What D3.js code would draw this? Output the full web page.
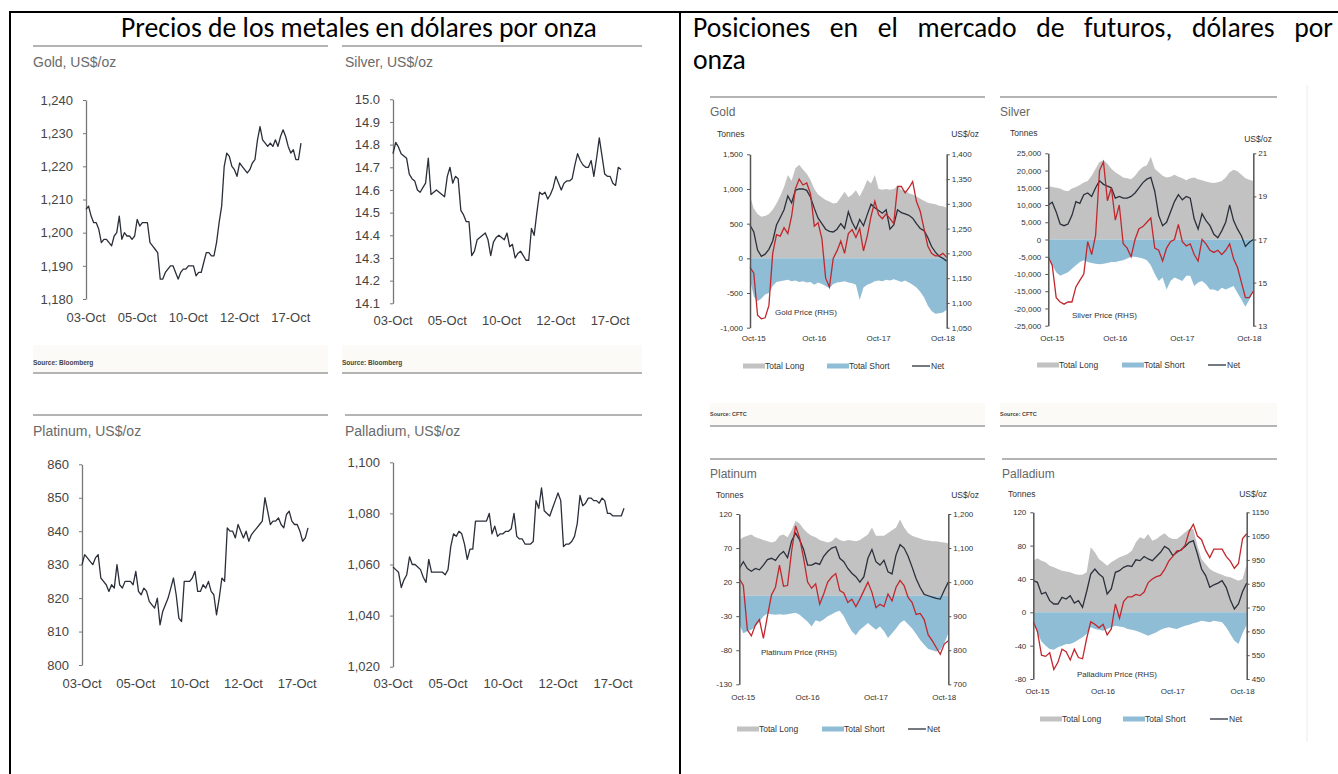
<!DOCTYPE html>
<html>
<head>
<meta charset="utf-8">
<script src="https://cdn.jsdelivr.net/npm/d3@7"></script>
<style>
  body { margin: 0; background: #fff; }
  svg { display: block; font-family: "Liberation Sans", Arial, sans-serif; }
</style>
</head>
<body>
<svg id="chart" width="1338" height="774"></svg>
<script>
// ---- headers ----
const leftHeader = "Precios de los metales en dólares por onza";
const rightHeaderLine1 = "Posiciones en el mercado de futuros, dólares por";
const rightHeaderLine2 = "onza";

// ---- spot prices (intraday, 03-Oct to 17-Oct) ----
const spotTickLabels = ["03-Oct", "05-Oct", "10-Oct", "12-Oct", "17-Oct"];
const spotTickIdx = [0, 20, 40, 60, 80];

const goldSpot = [1207,1208,1205,1203,1203,1201,1197,1198,1198,1197,
  1196,1199,1200,1205,1198,1200,1199,1199,1198,1199,
  1204,1202,1203,1203,1203,1197,1196,1195,1194,1186,
  1186,1188,1189,1190,1190,1188,1186,1188,1189,1189,
  1190,1190,1190,1187,1188,1188,1191,1194,1194,1193,
  1193,1197,1203,1208,1220,1224,1223,1220,1219,1217,
  1221,1220,1219,1218,1219,1221,1222,1228,1232,1228,
  1227,1226,1227,1226,1228,1226,1229,1231,1229,1226,
  1224,1225,1222,1222,1227];

const silverSpot = [14.76,14.81,14.79,14.76,14.75,14.74,14.67,14.65,14.64,14.60,
  14.59,14.61,14.63,14.74,14.58,14.59,14.60,14.59,14.58,14.57,
  14.66,14.70,14.63,14.66,14.65,14.51,14.49,14.46,14.46,14.31,
  14.33,14.38,14.39,14.40,14.41,14.38,14.31,14.37,14.39,14.40,
  14.39,14.38,14.41,14.35,14.36,14.30,14.32,14.33,14.31,14.29,
  14.29,14.43,14.40,14.50,14.59,14.58,14.59,14.56,14.58,14.61,
  14.66,14.63,14.60,14.63,14.64,14.64,14.65,14.71,14.76,14.73,
  14.71,14.70,14.70,14.73,14.66,14.74,14.83,14.75,14.67,14.66,
  14.66,14.63,14.62,14.70,14.69];

const platinumSpot = [830,833,832,831,830,832,833,826,825,824,
  822,824,823,830,824,823,825,825,825,824,
  828,822,821,823,822,819,818,817,820,812,
  816,818,820,823,826,821,814,813,825,825,
  825,826,828,822,822,824,823,825,822,821,
  815,820,826,825,841,840,840,838,842,840,
  838,840,837,839,840,841,842,843,850,846,
  842,843,843,844,842,841,845,846,843,842,
  842,840,837,838,841];

const palladiumSpot = [1059,1058,1057,1051,1054,1056,1063,1060,1060,1059,
  1058,1055,1053,1062,1057,1057,1057,1057,1057,1056,
  1058,1067,1072,1071,1073,1072,1068,1062,1066,1066,
  1077,1077,1077,1077,1077,1080,1072,1075,1071,1072,
  1072,1073,1073,1074,1080,1071,1070,1070,1068,1068,
  1068,1069,1085,1082,1090,1081,1080,1079,1082,1085,
  1088,1085,1067,1068,1068,1069,1071,1076,1087,1083,
  1084,1086,1086,1085,1085,1084,1086,1085,1080,1080,
  1079,1079,1079,1079,1082];

// ---- futures positions (every 3 weeks, Oct-15 to Oct-18) ----
const futTickLabels = ["Oct-15", "Oct-16", "Oct-17", "Oct-18"];
const futTickIdx = [1, 17, 34, 51];

const goldLong = [900,720,640,600,610,640,700,790,900,1030,1200,1120,1300,1350,1280,1220,1130,1000,920,880,
  840,820,790,800,880,960,880,920,980,890,1000,1130,1080,1200,1000,990,1000,990,1000,1040,
  990,980,940,920,890,860,830,800,790,780,760,750,730];
const goldShort = [-300,-550,-620,-580,-520,-500,-400,-340,-330,-320,-310,-330,-320,-340,-330,-350,-340,-380,-350,-370,
  -400,-430,-370,-350,-340,-330,-350,-360,-380,-600,-420,-380,-360,-330,-320,-330,-310,-320,-300,-320,
  -340,-320,-350,-380,-420,-480,-560,-680,-760,-800,-790,-780,-740];
const goldNet = [480,380,120,30,60,130,250,480,590,700,900,800,980,1000,1000,980,880,720,580,500,
  420,390,380,420,500,430,670,520,420,560,470,630,780,730,690,650,700,420,480,700,
  660,640,620,580,500,430,400,300,170,90,30,0,-40];
const goldPrice = [1172,1160,1075,1068,1070,1095,1200,1238,1235,1252,1240,1275,1330,1350,1338,1342,1320,1255,1262,1230,
  1150,1132,1190,1205,1225,1200,1240,1248,1232,1250,1205,1235,1275,1305,1278,1270,1280,1270,1260,1335,
  1335,1322,1332,1345,1305,1285,1250,1215,1200,1195,1195,1200,1192];

const silverLong = [15500,15200,15000,14800,14200,14000,14800,15200,15800,16500,17000,18500,20500,22500,23000,22000,20500,19500,18800,18000,
  17800,17500,18500,20000,21000,21500,24000,20500,19500,18500,18000,18200,18800,18200,17800,17200,17800,18000,17500,17200,
  16800,16500,16400,16600,17000,18000,19500,20200,19800,18800,17800,17300,17000];
const silverShort = [-5000,-7500,-9500,-10500,-10000,-9500,-8500,-7500,-6500,-6000,-6500,-6800,-7000,-7200,-7000,-6800,-6500,-6500,-6200,-6000,
  -5500,-5000,-5000,-5200,-5500,-6000,-7500,-10000,-12000,-11000,-14500,-12000,-11000,-11500,-12000,-10500,-10500,-13500,-12500,-12000,
  -13000,-14500,-14500,-15000,-14000,-14500,-14000,-13500,-15500,-17500,-19500,-17500,-15000];
const silverNet = [10000,10800,8000,4500,4000,4500,7000,11000,10500,13000,13500,12500,15000,17000,16000,15500,15000,12000,12500,12000,
  12000,12500,13500,15000,16500,17500,18000,14000,7000,4000,5000,8000,11000,13000,11500,12500,12000,6000,3000,7500,
  5500,4000,1500,500,2500,5000,10000,5500,3000,1000,-2000,-800,0];
const silverPrice = [16.2,15.8,14.3,14.1,14.0,14.1,14.1,14.8,15.1,15.4,16.9,16.3,17.2,20.2,20.6,18.8,19.4,17.9,18.6,16.8,
  16.6,16.2,17.0,17.5,17.6,17.8,18.0,16.6,16.5,16.0,16.6,16.9,17.0,17.7,16.9,16.7,16.8,16.3,16.0,17.0,
  16.8,16.5,16.4,16.5,16.3,16.5,16.8,16.1,15.7,15.0,14.3,14.3,14.6];

const platinumLong = [82,86,88,90,86,84,82,80,78,80,88,90,86,96,110,106,98,92,88,86,
  82,80,78,80,86,82,80,82,81,80,82,86,90,100,88,88,88,92,96,100,
  112,100,92,88,86,84,82,81,80,80,79,78,77];
const platinumShort = [-42,-55,-52,-50,-45,-38,-30,-26,-27,-28,-27,-28,-27,-26,-25,-28,-33,-38,-45,-36,
  -38,-35,-30,-27,-24,-22,-30,-42,-52,-58,-50,-45,-40,-45,-50,-45,-52,-62,-55,-48,
  -40,-36,-42,-48,-56,-65,-72,-78,-80,-82,-80,-70,-55];
const platinumNet = [40,50,40,36,40,38,45,53,55,52,60,65,56,80,92,82,68,45,45,48,
  46,58,65,70,72,55,50,40,33,28,20,28,55,68,50,45,52,35,32,60,
  75,70,58,42,25,12,2,0,-2,-4,-5,8,20];
const platinumPrice = [1010,990,860,842,874,890,835,900,962,985,1050,988,990,1090,1165,1130,1070,1000,982,995,
  935,965,1000,1015,1025,975,968,940,950,928,950,975,1000,970,925,935,928,965,945,985,
  1005,990,955,940,905,908,890,845,828,808,788,818,828];

const palladiumLong = [62,65,62,60,56,54,52,50,49,48,46,45,45,48,78,72,64,60,56,60,
  63,66,68,70,74,84,90,88,94,86,88,92,95,90,88,88,92,96,100,100,
  80,64,58,52,49,47,45,43,42,40,38,40,58];
const palladiumShort = [-10,-25,-35,-40,-44,-45,-42,-40,-38,-38,-36,-33,-30,-26,-18,-20,-21,-22,-20,-18,
  -16,-17,-18,-20,-21,-22,-24,-26,-28,-26,-24,-21,-19,-18,-19,-20,-18,-16,-15,-13,
  -12,-10,-11,-12,-10,-11,-12,-18,-26,-34,-38,-25,-15];
const palladiumNet = [38,36,22,24,14,10,10,18,16,20,11,14,6,25,46,52,46,42,22,28,
  48,50,54,56,55,63,62,67,64,62,67,72,79,76,68,72,75,79,84,86,
  70,52,44,30,33,35,38,30,15,4,10,25,35];
const palladiumPrice = [690,650,550,545,560,490,520,575,565,530,575,540,535,620,690,680,665,680,635,660,
  765,705,775,795,795,805,800,815,855,870,880,885,910,945,965,988,990,1012,1070,1100,
  1050,1035,990,960,995,995,995,965,945,915,935,1040,1060];

const legendLabels = ["Total Long", "Total Short", "Net"];

// hyphen minus like the original, not the unicode minus
const loc = d3.formatLocale({ decimal: ".", thousands: ",", grouping: [3], currency: ["$", ""], minus: "-" });
const fmtComma = loc.format(",");
const fmtInt = loc.format("d");
const fmt1 = loc.format(".1f");

const GRAY = "#c2c2c2", BLUE = "#8fbdd6", RED = "#c1272d", NET = "#2b303b";
const HEAD_FONT = "Carlito, Calibri, Lato, sans-serif";

const svg = d3.select("#chart");

function hline(x0, x1, y, color, w) {
  svg.append("line").attr("x1", x0).attr("x2", x1).attr("y1", y).attr("y2", y)
    .attr("stroke", color).attr("stroke-width", w);
}
function vline(x, y0, y1, color, w) {
  svg.append("line").attr("x1", x).attr("x2", x).attr("y1", y0).attr("y2", y1)
    .attr("stroke", color).attr("stroke-width", w);
}

// table frame
hline(9, 1338, 12, "#000", 2);
vline(10, 11, 774, "#000", 2);
vline(680, 11, 774, "#000", 2);
vline(1307, 85, 742, "#ececec", 1);

// headers: size the font so the left title spans the same width as the original
const lh = svg.append("text").attr("x", 121).attr("y", 37)
  .attr("font-family", HEAD_FONT).attr("font-size", 22).text(leftHeader);
const headSize = 22 * 476 / lh.node().getComputedTextLength();
lh.attr("font-size", headSize);

// justified first line on the right
const words = rightHeaderLine1.split(" ");
const wordNodes = words.map(w => svg.append("text").attr("y", 37)
  .attr("font-family", HEAD_FONT).attr("font-size", headSize).text(w));
const widths = wordNodes.map(n => n.node().getComputedTextLength());
const gap = (1333 - 693 - d3.sum(widths)) / (words.length - 1);
let cx = 693;
wordNodes.forEach((n, i) => { n.attr("x", cx); cx += widths[i] + gap; });
svg.append("text").attr("x", 693).attr("y", 69)
  .attr("font-family", HEAD_FONT).attr("font-size", headSize)
  .text(rightHeaderLine2);

// ---- small spot price charts ----
function spotChart(c) {
  const g = svg.append("g");
  hline(c.ruleX0, c.ruleX1, c.ruleY, "#9b9b9b", 1.5);
  g.append("text").attr("x", c.titleX).attr("y", c.ruleY + 21)
    .attr("font-size", 14).attr("fill", "#6a6a6a").text(c.title);

  const x = d3.scaleLinear().domain([0, c.values.length - 1]).range([c.axisX, c.endX]);
  const y = d3.scaleLinear().domain(c.domain).range([c.bottom, c.top]);

  const ax = g.append("g").attr("transform", "translate(" + c.axisX + ",0)")
    .call(d3.axisLeft(y).tickValues(c.ticks).tickFormat(c.fmt).tickSize(3).tickSizeOuter(0).tickPadding(10));
  ax.select(".domain").attr("stroke", "#777").attr("stroke-width", 1.3);
  ax.selectAll(".tick line").attr("stroke", "#777");
  ax.selectAll(".tick text").attr("font-size", 13).attr("fill", "#444")
    .attr("font-family", "\"Liberation Sans\", Arial, sans-serif");

  g.selectAll(".xl").data(spotTickIdx).join("text")
    .attr("x", d => x(d)).attr("y", c.labelY)
    .attr("text-anchor", "middle").attr("font-size", 13).attr("fill", "#444")
    .text((d, i) => spotTickLabels[i]);

  g.append("path").datum(c.values)
    .attr("d", d3.line().x((d, i) => x(i)).y(d => y(d)))
    .attr("fill", "none").attr("stroke", "#2b2f3a").attr("stroke-width", 1.3)
    .attr("stroke-linejoin", "round");

  if (c.source) {
    g.append("rect").attr("x", c.ruleX0).attr("y", 345).attr("width", c.ruleX1 - c.ruleX0).attr("height", 27)
      .attr("fill", "#fbfaf6");
    g.append("text").attr("x", c.ruleX0).attr("y", 365).attr("font-size", 6.5)
      .attr("font-weight", "bold").attr("fill", "#444").text(c.source);
    hline(c.ruleX0, c.ruleX1, 373, "#9b9b9b", 1.5);
  }
}

spotChart({ title: "Gold, US$/oz", values: goldSpot, ruleX0: 33, ruleX1: 328, ruleY: 46, titleX: 33,
  axisX: 86, endX: 301, top: 100, bottom: 299, domain: [1180, 1240], ticks: d3.range(1180, 1241, 10),
  fmt: fmtComma, labelY: 322, source: "Source: Bloomberg" });
spotChart({ title: "Silver, US$/oz", values: silverSpot, ruleX0: 342, ruleX1: 642, ruleY: 46, titleX: 345,
  axisX: 393, endX: 621, top: 99.3, bottom: 303.3, domain: [14.1, 15.0],
  ticks: [14.1,14.2,14.3,14.4,14.5,14.6,14.7,14.8,14.9,15.0],
  fmt: fmt1, labelY: 325, source: "Source: Bloomberg" });
spotChart({ title: "Platinum, US$/oz", values: platinumSpot, ruleX0: 33, ruleX1: 328, ruleY: 415, titleX: 33,
  axisX: 82, endX: 308, top: 464.3, bottom: 665, domain: [800, 860], ticks: d3.range(800, 861, 10),
  fmt: fmtInt, labelY: 688 });
spotChart({ title: "Palladium, US$/oz", values: palladiumSpot, ruleX0: 345, ruleX1: 642, ruleY: 415, titleX: 345,
  axisX: 393, endX: 624, top: 462.3, bottom: 666.7, domain: [1020, 1100], ticks: d3.range(1020, 1101, 20),
  fmt: fmtComma, labelY: 688 });

// ---- futures positioning charts ----
function futuresChart(c) {
  const g = svg.append("g");
  hline(c.ruleX0, c.ruleX1, c.ruleY, "#9b9b9b", 1.5);
  g.append("text").attr("x", c.ruleX0).attr("y", c.ruleY + 19)
    .attr("font-size", 12).attr("fill", "#666").text(c.title);
  g.append("text").attr("x", c.tonnesX).attr("y", c.unitsY).attr("font-size", 8.5).attr("fill", "#333").text("Tonnes");
  g.append("text").attr("x", c.unitsX).attr("y", c.unitsY2 || c.unitsY).attr("text-anchor", "end")
    .attr("font-size", 8.5).attr("fill", "#333").text("US$/oz");

  const x = d3.scaleLinear().domain([0, c.long.length - 1]).range([c.lx, c.rx]);
  const yl = d3.scaleLinear().domain(c.ldomain).range([c.bottom, c.top]);
  const yr = d3.scaleLinear().domain(c.rdomain).range([c.bottom, c.top]);

  g.append("path").datum(c.long)
    .attr("d", d3.area().x((d, i) => x(i)).y0(yl(0)).y1(d => yl(d))).attr("fill", GRAY);
  g.append("path").datum(c.short)
    .attr("d", d3.area().x((d, i) => x(i)).y0(yl(0)).y1(d => yl(d))).attr("fill", BLUE);
  g.append("path").datum(c.net)
    .attr("d", d3.line().x((d, i) => x(i)).y(d => yl(d)))
    .attr("fill", "none").attr("stroke", NET).attr("stroke-width", 1.3);
  g.append("path").datum(c.price)
    .attr("d", d3.line().x((d, i) => x(i)).y(d => yr(d)))
    .attr("fill", "none").attr("stroke", RED).attr("stroke-width", 1.3);

  const la = g.append("g").attr("transform", "translate(" + c.lx + ",0)")
    .call(d3.axisLeft(yl).tickValues(c.lticks).tickFormat(c.lfmt).tickSize(3).tickSizeOuter(0).tickPadding(4));
  const ra = g.append("g").attr("transform", "translate(" + c.rx + ",0)")
    .call(d3.axisRight(yr).tickValues(c.rticks).tickFormat(c.rfmt).tickSize(3).tickSizeOuter(0).tickPadding(2));
  [la, ra].forEach(a => {
    a.select(".domain").attr("stroke", "#555").attr("stroke-width", 1.5);
    a.selectAll(".tick line").attr("stroke", "#555");
    a.selectAll(".tick text").attr("font-size", 8).attr("fill", "#333")
      .attr("font-family", "\"Liberation Sans\", Arial, sans-serif");
  });

  g.selectAll(".xl").data(futTickIdx).join("text")
    .attr("x", d => x(d)).attr("y", c.labelY).attr("text-anchor", "middle")
    .attr("font-size", 8).attr("fill", "#333").text((d, i) => futTickLabels[i]);

  g.append("text").attr("x", c.priceX).attr("y", c.priceY).attr("font-size", 8).attr("fill", "#333")
    .text(c.priceLabel);

  // legend
  const [lx0, lx1, lx2] = c.legendX;
  g.append("rect").attr("x", lx0).attr("y", c.legendY - 2.5).attr("width", 22).attr("height", 5).attr("fill", GRAY);
  g.append("rect").attr("x", lx1).attr("y", c.legendY - 2.5).attr("width", 22).attr("height", 5).attr("fill", BLUE);
  g.append("line").attr("x1", lx2).attr("x2", lx2 + 18).attr("y1", c.legendY).attr("y2", c.legendY)
    .attr("stroke", NET).attr("stroke-width", 1.3);
  [lx0 + 22, lx1 + 22, lx2 + 19].forEach((lx, i) => {
    g.append("text").attr("x", lx).attr("y", c.legendY + 3).attr("font-size", 8.5).attr("fill", "#333")
      .text(legendLabels[i]);
  });

  if (c.source) {
    g.append("rect").attr("x", c.ruleX0).attr("y", 403).attr("width", c.ruleX1 - c.ruleX0).attr("height", 22)
      .attr("fill", "#fbfaf6");
    g.append("text").attr("x", c.ruleX0).attr("y", 416).attr("font-size", 5.5)
      .attr("font-weight", "bold").attr("fill", "#444").text(c.source);
    hline(c.ruleX0, c.ruleX1, 426, "#9b9b9b", 1.5);
  }
}

futuresChart({ title: "Gold", long: goldLong, short: goldShort, net: goldNet, price: goldPrice,
  ruleX0: 710, ruleX1: 985, ruleY: 97, tonnesX: 717, unitsX: 979, unitsY: 137,
  lx: 750, rx: 946.7, top: 154.3, bottom: 327.7,
  ldomain: [-1000, 1500], lticks: d3.range(-1000, 1501, 500), lfmt: fmtComma,
  rdomain: [1050, 1400], rticks: d3.range(1050, 1401, 50), rfmt: fmtComma,
  labelY: 341, priceLabel: "Gold Price (RHS)", priceX: 775, priceY: 315,
  legendY: 366, legendX: [743, 827, 912], source: "Source: CFTC" });

futuresChart({ title: "Silver", long: silverLong, short: silverShort, net: silverNet, price: silverPrice,
  ruleX0: 1000, ruleX1: 1277, ruleY: 97, tonnesX: 1010, unitsX: 1272, unitsY: 136, unitsY2: 142,
  lx: 1048.3, rx: 1253.3, top: 153.3, bottom: 325.7,
  ldomain: [-25000, 25000], lticks: d3.range(-25000, 25001, 5000), lfmt: fmtComma,
  rdomain: [13, 21], rticks: [13, 15, 17, 19, 21], rfmt: fmtInt,
  labelY: 341, priceLabel: "Silver Price (RHS)", priceX: 1072, priceY: 318,
  legendY: 365, legendX: [1037, 1122, 1208], source: "Source: CFTC" });

futuresChart({ title: "Platinum", long: platinumLong, short: platinumShort, net: platinumNet, price: platinumPrice,
  ruleX0: 710, ruleX1: 985, ruleY: 459, tonnesX: 716, unitsX: 979, unitsY: 498,
  lx: 739.3, rx: 948.3, top: 514, bottom: 684.3,
  ldomain: [-130, 120], lticks: d3.range(-130, 121, 50), lfmt: fmtInt,
  rdomain: [700, 1200], rticks: d3.range(700, 1201, 100), rfmt: fmtComma,
  labelY: 700, priceLabel: "Platinum Price (RHS)", priceX: 761, priceY: 655,
  legendY: 729, legendX: [737, 822, 908] });

futuresChart({ title: "Palladium", long: palladiumLong, short: palladiumShort, net: palladiumNet, price: palladiumPrice,
  ruleX0: 1002, ruleX1: 1277, ruleY: 459, tonnesX: 1008, unitsX: 1267, unitsY: 497,
  lx: 1033.3, rx: 1246.7, top: 512.3, bottom: 679,
  ldomain: [-80, 120], lticks: d3.range(-80, 121, 40), lfmt: fmtInt,
  rdomain: [450, 1150], rticks: d3.range(450, 1151, 100), rfmt: fmtInt,
  labelY: 694, priceLabel: "Palladium Price (RHS)", priceX: 1077, priceY: 677,
  legendY: 719, legendX: [1040, 1123, 1210] });
</script>
</body>
</html>
